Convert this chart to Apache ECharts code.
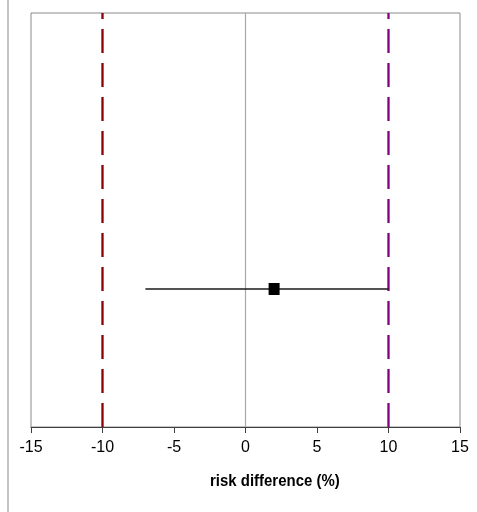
<!DOCTYPE html>
<html><head><meta charset="utf-8">
<script src="https://cdn.jsdelivr.net/npm/echarts@6/dist/echarts.min.js"></script>
<style>html,body{margin:0;padding:0;background:#fff}#c{width:477px;height:512px}</style>
</head><body><div id="c"></div>
<script>
var xTicks = [-15, -10, -5, 0, 5, 10, 15];
var estimate = [2];
var ciLow = [-7];
var ciHigh = [10];
var rowY = [1];
var lowerMargin = [-10];
var upperMargin = [10];
var axisTitle = 'risk difference (%)';

var chart = echarts.init(document.getElementById('c'));
chart.setOption({
  animation: false,
  grid: {left: 31, right: 17, top: 13, bottom: 85, show: true, borderColor: '#8a8a8a', borderWidth: 1},
  xAxis: {
    type: 'value', min: -15, max: 15, interval: 5,
    axisLine: {show: true, lineStyle: {color: '#404040', width: 1}},
    axisTick: {show: true, length: 6, lineStyle: {color: '#404040'}},
    splitLine: {show: false},
    axisLabel: {color: '#000', fontFamily: 'Liberation Sans', fontSize: 16, margin: 13}
  },
  yAxis: {type: 'value', min: 0, max: 3, show: false, splitLine: {show: false}},
  graphic: [
    {type: 'line', shape: {x1: 8, y1: 0, x2: 8, y2: 512}, style: {stroke: '#c4c4c4', lineWidth: 2}},
    {type: 'text', x: 210, y: 473, scaleX: 0.88, style: {text: axisTitle, font: 'bold 17px "Liberation Sans"', fill: '#000', textAlign: 'left', textVerticalAlign: 'top'}}
  ],
  series: [
    {type: 'line', data: [[0, 0], [0, 3]], symbol: 'none', lineStyle: {color: '#a8a8a8', width: 1.2}, z: 1},
    {type: 'line', data: [[lowerMargin[0], 0], [lowerMargin[0], 3]], symbol: 'none', lineStyle: {color: '#8b0000', width: 2.3, type: [24, 10]}, z: 2},
    {type: 'line', data: [[upperMargin[0], 0], [upperMargin[0], 3]], symbol: 'none', lineStyle: {color: '#800080', width: 2.3, type: [24, 10]}, z: 2},
    {type: 'line', data: [[ciLow[0], rowY[0]], [ciHigh[0], rowY[0]]], symbol: 'none', lineStyle: {color: '#1a1a1a', width: 1.6}, z: 3},
    {type: 'scatter', data: [[estimate[0], rowY[0]]], symbol: 'rect', symbolSize: [11, 12], itemStyle: {color: '#000', opacity: 1}, z: 4}
  ]
});
</script></body></html>
